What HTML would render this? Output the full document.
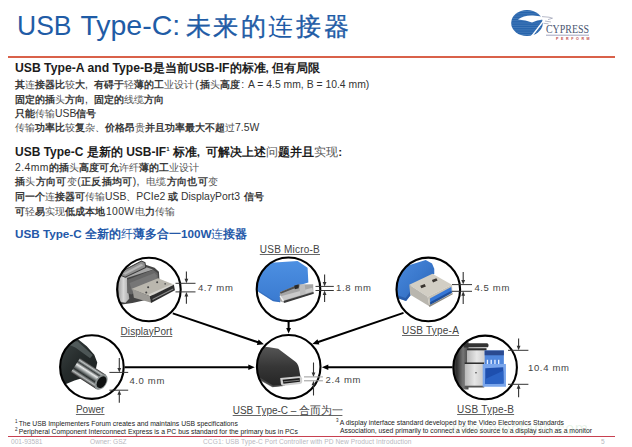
<!DOCTYPE html>
<html><head><meta charset="utf-8">
<style>
html,body{margin:0;padding:0;background:#fff;}
body{width:632px;height:447px;position:relative;overflow:hidden;font-family:"Liberation Sans",sans-serif;color:#1a1a1a;}
.t{position:absolute;white-space:nowrap;line-height:1;}
.title{left:17px;top:11px;font-size:28.5px;color:#1f5ca6;}
.title .cj{font-size:25px;letter-spacing:2.6px;}
.title b{font-weight:400;-webkit-text-stroke:0.35px #1f5ca6}
.h{font-weight:bold;font-size:11.7px;color:#1c1c1c;}
.h .w{font-size:12.2px}
.h .w2{font-size:12px}
.l{font-size:10.4px;color:#333;}
.l b{font-weight:700;color:#3a3a3a}
.l i,.h i{font-style:normal;font-weight:400;color:#555}
.blue{color:#2458a8;font-weight:bold;font-size:11.7px;}
.blue i{font-style:normal;font-weight:400}
.lab{font-size:10px;color:#444;letter-spacing:0.22px;text-decoration:underline;text-decoration-color:#666;text-underline-offset:1px;}
.dim{font-size:9.5px;color:#444;letter-spacing:0.65px;}
.fn{font-size:6.8px;color:#222;}
.fn sup{margin-right:1.2px;font-size:4.5px}
.c{margin-right:3px}
.ft{font-size:6.6px;color:#b8b8c0;}
</style></head><body>
<div class="t title"><span style="display:inline-block;transform:scaleX(0.93);transform-origin:0 0">USB</span><span style="word-spacing:-2.6px"> Type-C: </span><span class="cj"><b>未来的</b>连<b>接器</b></span></div>
<svg style="position:absolute;left:0;top:0" width="632" height="60" viewBox="0 0 632 60">
<defs><clipPath id="cL"><ellipse cx="527" cy="23" rx="15.8" ry="13"/></clipPath></defs>
<ellipse cx="527" cy="23" rx="15.8" ry="13" fill="#2764ac"/>
<g clip-path="url(#cL)" stroke="#9dbde0" stroke-width="0.6" opacity="0.4"><line x1="508" y1="11.5" x2="546" y2="11.5"/><line x1="508" y1="13.8" x2="546" y2="13.8"/><line x1="508" y1="16.1" x2="546" y2="16.1"/><line x1="508" y1="18.4" x2="546" y2="18.4"/><line x1="508" y1="20.7" x2="546" y2="20.7"/><line x1="508" y1="23" x2="546" y2="23"/><line x1="508" y1="25.3" x2="546" y2="25.3"/><line x1="508" y1="27.6" x2="546" y2="27.6"/><line x1="508" y1="29.9" x2="546" y2="29.9"/><line x1="508" y1="32.2" x2="546" y2="32.2"/><line x1="508" y1="34.5" x2="546" y2="34.5"/></g>
<path d="M518,19.5 Q524,15 533,15.5 Q540,16 546,17.2 L552,17.5 L548,19 L543,19.5 Q537,20 532,22.5 Q526,20 518,19.5 Z" fill="#fff"/>
<path d="M544,20 Q539,27 531,37" stroke="#fff" stroke-width="1.3" fill="none"/>
<path d="M542,16.6 L549,17.2 L552.5,18.2 L548,19.6 M545,21 L551,22 M543.5,23.3 L548.5,23.8" stroke="#8d93aa" stroke-width="0.8" fill="none" opacity="0.8"/>
<text x="546" y="33.3" font-family="Liberation Serif" font-size="11.6" fill="#4b5672" textLength="43" lengthAdjust="spacingAndGlyphs">CYPRESS</text>
<line x1="546" y1="35.2" x2="589" y2="35.2" stroke="#8a8fb0" stroke-width="0.8"/>
<text x="556" y="40.3" font-family="Liberation Sans" font-size="3.6" font-weight="bold" fill="#c24a4a" letter-spacing="2.6">PERFORM</text>
</svg>
<div style="position:absolute;left:8px;top:56px;width:607px;height:2px;background:#d9614a"></div>

<div class="t h" style="left:15px;top:62px"><span class="w">USB Type-A and Type-B</span>是当前<span class="w">USB-IF</span>的标准, 但有局限</div>
<div class="t l" style="left:15px;top:79.8px"><b>其</b><i>连</i><b>接器比</b><i>较</i><b>大</b><span class="c">,</span> <b>有碍于</b><i>轻</i><b>薄的工</b><i>业设计</i><span style="margin:0 1.5px">(</span><b>插</b><i>头</i><b>高度</b><span style="margin:0 1px">:</span> A = 4.5 mm, B = 10.4 mm)</div>
<div class="t l" style="left:15px;top:94.8px"><b>固定的插</b><i>头</i><b>方向</b><span class="c">,</span> <b>固定的</b><i>线缆</i><b>方向</b></div>
<div class="t l" style="left:15px;top:108.8px"><b>只能</b><i>传输</i>USB<b>信号</b></div>
<div class="t l" style="left:15px;top:123px"><i>传输</i><b>功率比</b><i>较</i><b>复</b><i>杂</i>、<b>价格昂</b><i>贵</i><b>并且功率最大不超</b><i>过</i>7.5W</div>

<div class="t h" style="left:15px;top:146px"><span class="w2">USB Type-C </span>是新的<span class="w2"> USB-IF</span><sup style="font-size:6px">1</sup> 标准<span class="c">,</span> 可解决上述<i>问</i>题并且<i>实现</i>:</div>
<div class="t l" style="left:15px;top:162.8px"><span style="letter-spacing:0.4px">2.4mm</span><b>的插</b><i>头</i><b>高度可允</b><i>许纤</i><b>薄的工</b><i>业设计</i></div>
<div class="t l" style="left:15px;top:177.4px;letter-spacing:0.35px"><b>插</b><i>头</i><b>方向可</b><i>变</i>(<b>正反插均可</b>)<span class="c">,</span> <i>电缆</i><b>方向也可</b><i>变</i></div>
<div class="t l" style="left:15px;top:191.8px"><b>同一个</b><i>连</i><b>接器可</b><i>传输</i>USB、PCIe2 <b>或</b> DisplayPort3 <b style="margin-left:1.5px;font-size:9.6px">信号</b></div>
<div class="t l" style="left:15px;top:206.6px"><b>可</b><i>轻</i><b>易</b><i>实现</i><b>低成本地</b><span style="margin:0 1px;letter-spacing:0.3px">100W</span><i>电</i><b>力</b><i>传输</i></div>

<div class="t blue" style="left:15px;top:228px">USB Type-C 全新的<i>纤</i>薄多合一100W<i>连</i>接器</div>

<svg style="position:absolute;left:0;top:0" width="632" height="447" viewBox="0 0 632 447">
<defs>
<clipPath id="cDP"><circle cx="148.9" cy="289.5" r="32"/></clipPath>
<linearGradient id="gSil" x1="0" y1="0" x2="1" y2="0"><stop offset="0" stop-color="#9a9a9a"/><stop offset="0.5" stop-color="#d8d8d8"/><stop offset="1" stop-color="#a8a8a8"/></linearGradient>
<linearGradient id="gMet" x1="0" y1="0" x2="0" y2="1"><stop offset="0" stop-color="#d6d3cc"/><stop offset="1" stop-color="#b9b6ae"/></linearGradient>
<clipPath id="cMB"><circle cx="288.5" cy="289.3" r="32"/></clipPath>
<linearGradient id="gMB" x1="0" y1="0" x2="0" y2="1"><stop offset="0" stop-color="#4d90e2"/><stop offset="1" stop-color="#3a7ad0"/></linearGradient>
<clipPath id="cA"><circle cx="428.3" cy="289.4" r="32"/></clipPath>
<linearGradient id="gA" x1="0" y1="0" x2="1" y2="1"><stop offset="0" stop-color="#4a8ade"/><stop offset="0.5" stop-color="#3a78cc"/><stop offset="1" stop-color="#2a60b0"/></linearGradient>
<clipPath id="cP"><circle cx="91.9" cy="367.1" r="32"/></clipPath>
<linearGradient id="gBar" x1="0" y1="0" x2="0" y2="1">
<stop offset="0" stop-color="#333"/><stop offset="0.12" stop-color="#bfc4c4"/><stop offset="0.25" stop-color="#3a3f3f"/><stop offset="0.4" stop-color="#e8eaea"/><stop offset="0.55" stop-color="#8a9090"/><stop offset="0.7" stop-color="#2a2f2f"/><stop offset="0.85" stop-color="#b8bcbc"/><stop offset="1" stop-color="#2a2a2a"/></linearGradient>
<linearGradient id="gPB" x1="0" y1="0" x2="1" y2="1"><stop offset="0" stop-color="#3e4646"/><stop offset="0.5" stop-color="#252b2b"/><stop offset="1" stop-color="#1c2020"/></linearGradient>
<clipPath id="cC"><circle cx="288.7" cy="366.8" r="32"/></clipPath>
<linearGradient id="gC" x1="0" y1="0" x2="0" y2="1"><stop offset="0" stop-color="#555"/><stop offset="0.5" stop-color="#363636"/><stop offset="1" stop-color="#242424"/></linearGradient>
<clipPath id="cB"><circle cx="485.1" cy="367.4" r="32"/></clipPath>
<linearGradient id="gBL" x1="0" y1="0" x2="1" y2="0"><stop offset="0" stop-color="#555"/><stop offset="0.35" stop-color="#2e2e2e"/><stop offset="0.7" stop-color="#777"/><stop offset="1" stop-color="#444"/></linearGradient>
<linearGradient id="gBS" x1="0" y1="0" x2="1" y2="0"><stop offset="0" stop-color="#b8b8b8"/><stop offset="0.5" stop-color="#e6e6e6"/><stop offset="1" stop-color="#c8c8c8"/></linearGradient>
</defs>
<g clip-path="url(#cDP)"><g transform="translate(115,255) scale(0.14542)">
<path d="M12,160 L38,126 L190,60 L272,88 L302,116 L306,175 L250,300 L120,330 L45,340 L15,325 Z" fill="#444"/>
<path d="M18,165 L40,138 L82,158 L98,300 L72,328 L28,322 Z" fill="url(#gSil)"/>
<path d="M40,138 L196,78 L262,100 L82,158 Z" fill="#a6a6a6"/>
<path d="M36,118 L182,42 L206,52 L212,86 L70,152 L40,140 Z" fill="#8e8e8e" stroke="#3a3a3a" stroke-width="7"/>
<path d="M55,128 L180,62 L195,70 L70,135 Z" fill="#b4b4b4"/>
<path d="M82,172 L262,102 L294,126 L298,172 L112,272 L84,262 Z" fill="#666"/>
<path d="M100,192 L272,124 L286,140 L288,168 L118,250 Z" fill="#767676"/>
<path d="M112,234 L296,160 L408,204 L240,284 Z" fill="#bab7ae"/>
<path d="M230,272 L398,198 L408,204 L240,284 Z" fill="#d6d4ce"/>
<path d="M120,234 L240,284 L250,328 L130,294 Z" fill="#9c9a95"/>
<path d="M240,286 L405,204 L412,242 L248,330 Z" fill="#2e2e2e"/>
<path d="M258,306 L400,234" stroke="#8c8c8c" stroke-width="7"/>
<circle cx="290" cy="188" r="7" fill="#444"/><circle cx="345" cy="198" r="6" fill="#555"/>
<circle cx="228" cy="222" r="7" fill="#444"/><circle cx="215" cy="258" r="7" fill="#444"/>
</g></g>
<g clip-path="url(#cMB)"><g transform="translate(255,256) scale(0.14988)">
<path d="M-10,110 L40,60 Q55,48 80,46 L284,33 L351,78 L356,176 L290,196 L168,242 L168,308 L120,300 L26,240 L-10,220 Z" fill="url(#gMB)"/>
<path d="M26,232 L120,292 L168,300 L168,308 L120,302 L26,242 Z" fill="#2f66b4" opacity="0.6"/>
<path d="M166,242 L290,190 L388,189 L390,250 L190,310 L166,302 Z" fill="#a6a6a6"/>
<path d="M166,242 L290,190 L300,192 L300,202 L172,252 Z" fill="#505050"/>
<path d="M172,268 L382,212 L388,236 L195,296 L178,290 Z" fill="#cacaca"/>
<path d="M168,262 L196,300 L186,306 L165,270 Z" fill="#f2f2f2"/>
<path d="M190,300 L390,240 L392,252 L195,314 Z" fill="#3a3a3a"/>
<path d="M262,196 L290,190 L292,216 L266,222 Z" fill="#2a2a2a"/>
<path d="M296,192 L332,190 L338,252 L302,262 Z" fill="#bcbcbc"/>
</g></g>
<g clip-path="url(#cA)"><g transform="translate(395,256) scale(0.14988)">
<path d="M5,140 L38,79 L205,26 L247,50 L262,85 L262,120 L100,198 L104,262 L74,300 L20,282 L5,220 Z" fill="url(#gA)"/>
<path d="M5,230 L20,282 L74,300 L104,262 L100,240 L70,280 L25,265 Z" fill="#1f4f98" opacity="0.6"/>
<path d="M95,192 L250,118 L380,192 L218,272 Z" fill="#d2cec4"/>
<path d="M95,192 L218,272 L229,336 L102,258 Z" fill="#b9b6ae"/>
<path d="M218,272 L380,192 L384,250 L229,336 Z" fill="#c6c2b8"/>
<path d="M233,284 L375,206 L379,246 L236,326 Z" fill="#3576d6"/>
<path d="M234,308 L377,232 L379,246 L236,326 Z" fill="#1f4f9a"/>
<path d="M226,330 L384,248 L385,256 L230,340 Z" fill="#8a877f"/>
<path d="M168,198 L198,186 L206,204 L176,216 Z" fill="#3a3530"/>
<path d="M246,160 L276,148 L284,164 L254,176 Z" fill="#3a3530"/>
</g></g>
<g clip-path="url(#cP)"><g transform="translate(58,334) scale(0.14988)">
<path d="M-10,60 L60,28 L130,32 L192,82 L242,138 L262,190 L250,245 L175,290 L110,310 L50,335 L-10,310 Z" fill="url(#gPB)"/>
<path d="M45,58 L130,48 L232,140 L214,162 L118,92 Z" fill="#6e7878" opacity="0.55"/>
<g transform="translate(288,320) rotate(33)">
<rect x="-205" y="-57" width="205" height="114" fill="url(#gBar)"/>
<ellipse cx="0" cy="0" rx="36" ry="57" fill="#8a9090"/>
<ellipse cx="3" cy="0" rx="28" ry="43" fill="#101212"/>
</g>
</g></g>
<g clip-path="url(#cC)"><g transform="translate(255,333) scale(0.14988)">
<path d="M-10,135 L45,102 Q62,90 95,95 L155,105 L270,192 Q292,212 295,245 L305,300 L195,350 L120,360 L20,305 L-10,285 Z" fill="url(#gC)"/>
<path d="M-10,250 L20,290 L120,350 L190,345 L185,355 L115,362 L15,305 L-10,275 Z" fill="#555" opacity="0.7"/>
<path d="M168,300 L296,288 Q312,288 314,302 L315,326 Q315,338 300,340 L192,352 Q176,353 173,340 Z" fill="#cfcfcf"/>
<path d="M184,312 L298,300 L300,326 L190,338 Z" fill="#1a1a1a"/>
<path d="M190,322 L296,312 L297,318 L191,328 Z" fill="#777"/>
</g></g>
<g clip-path="url(#cB)"><g transform="translate(452,334) scale(0.14988)">
<rect x="-10" y="50" width="120" height="320" fill="url(#gBL)"/>
<path d="M70,62 L235,62 Q250,70 240,88 L80,90 Z" fill="#333"/>
<rect x="100" y="95" width="130" height="100" fill="url(#gBS)"/>
<rect x="100" y="95" width="130" height="14" fill="#2a2a2a"/>
<rect x="85" y="190" width="130" height="12" fill="#2a2a2a"/>
<rect x="85" y="200" width="130" height="150" fill="url(#gBS)"/>
<rect x="85" y="345" width="130" height="12" fill="#555"/>
<circle cx="160" cy="258" r="5" fill="#333"/>
<rect x="218" y="110" width="128" height="100" fill="#4f86dc"/>
<rect x="218" y="110" width="128" height="32" fill="#2a4a90"/>
<rect x="232" y="172" width="9" height="34" fill="#e8f0ff"/><rect x="257" y="172" width="9" height="34" fill="#e8f0ff"/>
<rect x="282" y="172" width="9" height="34" fill="#e8f0ff"/><rect x="307" y="172" width="9" height="34" fill="#e8f0ff"/>
<rect x="205" y="200" width="155" height="152" fill="#7aa6ec"/>
<path d="M222,228 L342,222 L344,330 L222,334 Z" fill="#1e4fae"/>
<path d="M222,300 L342,245 L344,330 L222,334 Z" fill="#2a62c4"/>
</g></g>
<g fill="none" stroke="#000" stroke-width="2.1">
<circle cx="148.9" cy="289.5" r="31.8"/>
<circle cx="288.5" cy="289.3" r="31.8"/>
<circle cx="428.3" cy="289.4" r="31.8"/>
<circle cx="91.9" cy="367.1" r="31.8"/>
<circle cx="288.7" cy="366.8" r="31.8"/>
<circle cx="485.1" cy="367.4" r="31.8"/>
</g>
<!--ARROWS-->
<line x1="172.8" y1="313.4" x2="258.7" y2="342.5" stroke="#000" stroke-width="2.0"/><polygon points="263.9,344.3 256.8,344.9 258.6,339.6" fill="#000"/>
<line x1="288.6" y1="321.5" x2="288.6" y2="329.1" stroke="#000" stroke-width="2.0"/><polygon points="288.6,333.6 286.2,328.1 291.0,328.1" fill="#000"/>
<line x1="403.5" y1="312.9" x2="317.5" y2="342.2" stroke="#000" stroke-width="2.0"/><polygon points="312.3,344.0 317.5,339.3 319.4,344.6" fill="#000"/>
<line x1="124.7" y1="367.3" x2="249.3" y2="367.3" stroke="#000" stroke-width="2.0"/><polygon points="254.8,367.3 248.3,370.1 248.3,364.5" fill="#000"/>
<line x1="452.5" y1="367.2" x2="327.3" y2="367.2" stroke="#000" stroke-width="2.0"/><polygon points="321.8,367.2 328.3,364.4 328.3,370.0" fill="#000"/>
<line x1="186.4" y1="271.6" x2="186.4" y2="279.8" stroke="#333" stroke-width="1.1"/><polygon points="186.4,283.3 184.5,278.8 188.3,278.8" fill="#333"/><line x1="186.4" y1="303.8" x2="186.4" y2="295.4" stroke="#333" stroke-width="1.1"/><polygon points="186.4,291.9 188.3,296.4 184.5,296.4" fill="#333"/><line x1="175.5" y1="283.3" x2="195.5" y2="283.3" stroke="#333" stroke-width="1"/><line x1="175.5" y1="291.9" x2="195.5" y2="291.9" stroke="#333" stroke-width="1"/>
<line x1="324.6" y1="274.4" x2="324.6" y2="282.9" stroke="#333" stroke-width="1.1"/><polygon points="324.6,286.4 322.7,281.9 326.5,281.9" fill="#333"/><line x1="324.6" y1="302.1" x2="324.6" y2="294.0" stroke="#333" stroke-width="1.1"/><polygon points="324.6,290.5 326.5,295.0 322.7,295.0" fill="#333"/><line x1="315.5" y1="286.4" x2="333.8" y2="286.4" stroke="#333" stroke-width="1"/><line x1="315.5" y1="290.5" x2="333.8" y2="290.5" stroke="#333" stroke-width="1"/>
<line x1="463.2" y1="272.0" x2="463.2" y2="281.1" stroke="#333" stroke-width="1.1"/><polygon points="463.2,284.6 461.3,280.1 465.1,280.1" fill="#333"/><line x1="463.2" y1="304.0" x2="463.2" y2="294.8" stroke="#333" stroke-width="1.1"/><polygon points="463.2,291.3 465.1,295.8 461.3,295.8" fill="#333"/><line x1="452.0" y1="284.6" x2="472.0" y2="284.6" stroke="#333" stroke-width="1"/><line x1="452.0" y1="291.3" x2="472.0" y2="291.3" stroke="#333" stroke-width="1"/>
<line x1="119.3" y1="358.0" x2="119.3" y2="368.9" stroke="#333" stroke-width="1.1"/><polygon points="119.3,372.4 117.4,367.9 121.2,367.9" fill="#333"/><line x1="119.3" y1="402.7" x2="119.3" y2="393.7" stroke="#333" stroke-width="1.1"/><polygon points="119.3,390.2 121.2,394.7 117.4,394.7" fill="#333"/><line x1="109.4" y1="372.4" x2="128.2" y2="372.4" stroke="#333" stroke-width="1"/><line x1="109.4" y1="390.2" x2="128.2" y2="390.2" stroke="#333" stroke-width="1"/>
<line x1="313.5" y1="362.5" x2="313.5" y2="373.4" stroke="#333" stroke-width="1.1"/><polygon points="313.5,376.9 311.6,372.4 315.4,372.4" fill="#333"/><line x1="313.5" y1="395.5" x2="313.5" y2="384.3" stroke="#333" stroke-width="1.1"/><polygon points="313.5,380.8 315.4,385.3 311.6,385.3" fill="#333"/><line x1="304.0" y1="376.9" x2="322.9" y2="376.9" stroke="#999" stroke-width="1"/><line x1="304.0" y1="380.8" x2="322.9" y2="380.8" stroke="#999" stroke-width="1"/>
<line x1="518.6" y1="338.4" x2="518.6" y2="346.8" stroke="#333" stroke-width="1.1"/><polygon points="518.6,350.3 516.7,345.8 520.5,345.8" fill="#333"/><line x1="518.6" y1="397.3" x2="518.6" y2="387.8" stroke="#333" stroke-width="1.1"/><polygon points="518.6,384.3 520.5,388.8 516.7,388.8" fill="#333"/><line x1="508.0" y1="350.3" x2="528.4" y2="350.3" stroke="#333" stroke-width="1"/><line x1="508.0" y1="384.3" x2="528.4" y2="384.3" stroke="#333" stroke-width="1"/>
<!--/ARROWS-->
</svg>

<div class="t lab" style="left:120.6px;top:326.7px;letter-spacing:0.05px">DisplayPort</div>
<div class="t lab" style="left:259.8px;top:244.5px">USB Micro-B</div>
<div class="t lab" style="left:402.0px;top:325.6px">USB Type-A</div>
<div class="t lab" style="left:75.9px;top:405.1px;letter-spacing:0.05px">Power</div>
<div class="t lab" style="left:232.7px;top:405.1px;letter-spacing:0">USB Type-C – <span style="font-size:11px;letter-spacing:-0.2px">合而为一</span></div>
<div class="t lab" style="left:457.1px;top:405.0px">USB Type-B</div>

<div class="t dim" style="left:197.9px;top:283.4px">4.7 mm</div>
<div class="t dim" style="left:336.0px;top:283.2px">1.8 mm</div>
<div class="t dim" style="left:474.4px;top:283.0px">4.5 mm</div>
<div class="t dim" style="left:129.4px;top:376.4px">4.0 mm</div>
<div class="t dim" style="left:325.5px;top:374.6px">2.4 mm</div>
<div class="t dim" style="left:528.0px;top:363.0px">10.4 mm</div>

<div class="t fn" style="left:15px;top:420px"><sup>1</sup>The USB Implementers Forum creates and maintains USB specifications</div>
<div class="t fn" style="left:15px;top:428px"><sup>2</sup>Peripheral Component Interconnect Express is a PC bus standard for the primary bus in PCs</div>
<div class="t fn" style="left:336px;top:419px"><sup>3</sup>A display interface standard developed by the Video Electronics Standards</div>
<div class="t fn" style="left:340px;top:428px">Association, used primarily to connect a video source to a display such as a monitor</div>
<div style="position:absolute;left:8px;top:436px;width:607px;height:1px;background:#c84050"></div>
<div class="t ft" style="left:11px;top:439px">001-93581</div>
<div class="t ft" style="left:90px;top:439px">Owner: GSZ</div>
<div class="t ft" style="left:203px;top:439px;letter-spacing:0.08px">CCG1: USB Type-C Port Controller with PD New Product Introduction</div>
<div class="t ft" style="left:601px;top:439px">5</div>
<div class="t" style="left:448px;top:421px;font-size:16px;color:rgba(110,180,110,0.16);letter-spacing:0.5px">www.elecfans.com</div>
</body></html>
